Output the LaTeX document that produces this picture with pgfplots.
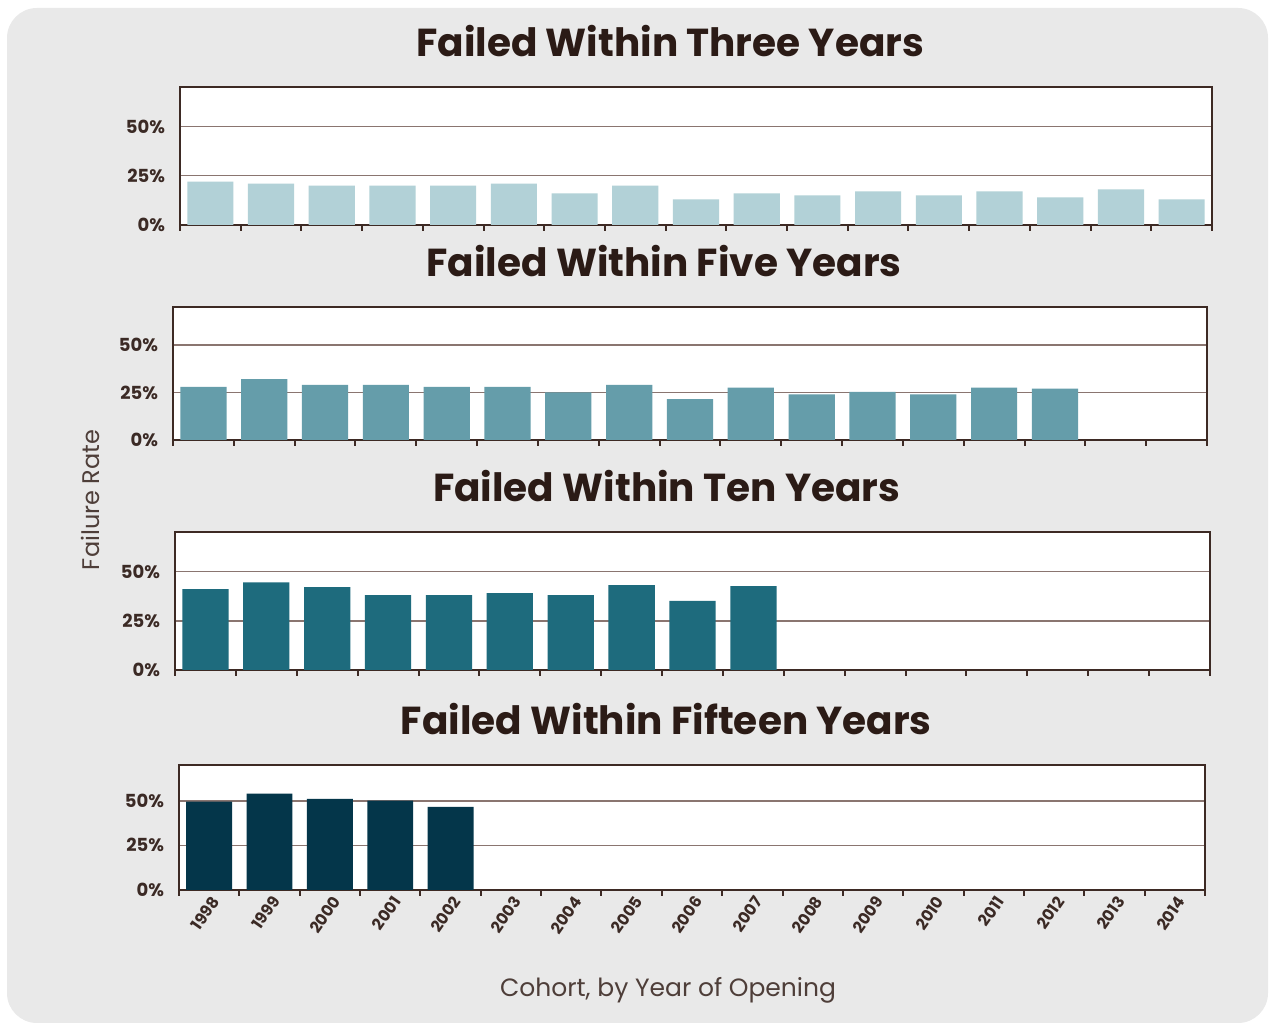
\documentclass[border=0pt]{standalone}
\usepackage{pgfplots}
\pgfplotsset{compat=1.18}
\usepackage{fontspec}
\setmainfont{Poppins}
\definecolor{bgc}{HTML}{E9E9E9}
\definecolor{axc}{HTML}{3D2A24}
\definecolor{gridc}{HTML}{8A7570}
\definecolor{titc}{HTML}{2B1B16}
\definecolor{tickc}{HTML}{3B2A25}
\definecolor{labc}{HTML}{4E3E39}
\definecolor{c1}{HTML}{B2D1D7}
\definecolor{c2}{HTML}{659DAA}
\definecolor{c3}{HTML}{1E6B7D}
\definecolor{c4}{HTML}{04364A}
\pgfplotsset{
  panel/.style={
    scale only axis, width=516pt, height=69pt,
    xmin=-0.5, xmax=16.5, ymin=0, ymax=70,
    ytick={0,25,50}, yticklabels={0\%,25\%,50\%},
    ymajorgrids, grid style={line width=0.8pt, color=gridc},
    axis line style={line width=1pt, color=axc},
    axis background/.style={fill=white},
    xtick={0,...,16}, xticklabels={},
    minor xtick={-0.5,0.5,...,16.5},
    xtick pos=bottom, ytick pos=left,
    tick align=outside,
    major tick length=0pt, minor tick length=3pt,
    minor tick style={line width=1pt, color=axc},
    yticklabel style={font=\bfseries\fontsize{9}{10}\selectfont, text=tickc, xshift=-4pt},
    title style={at={(0.475,1)}, anchor=base, yshift=9pt, font=\bfseries\fontsize{19.5}{21}\selectfont, text=titc},
    clip=false,
  },
  panelbar/.style={ybar, bar width=0.76, bar shift=0pt, draw=none, fill=#1},
}
\begin{document}
\begin{tikzpicture}
\path[fill=white] (0pt,0pt) rectangle (635pt,513pt);
\fill[bgc, rounded corners=15pt] (3.5pt,1.5pt) rectangle (634pt,509pt);

\begin{axis}[panel, at={(90pt,400.5pt)}, anchor=south west, width=516pt, height=69pt,
  title={Failed Within Three Years}]
\addplot[panelbar=c1] coordinates {(0,22) (1,21) (2,20) (3,20) (4,20) (5,21) (6,16) (7,20) (8,13) (9,16) (10,15) (11,17) (12,15) (13,17) (14,14) (15,18) (16,13)};
\end{axis}

\begin{axis}[panel, at={(86.5pt,293pt)}, anchor=south west, width=517pt, height=66.5pt,
  title={Failed Within Five Years}]
\addplot[panelbar=c2] coordinates {(0,28) (1,32) (2,29) (3,29) (4,28) (5,28) (6,25) (7,29) (8,21.5) (9,27.6) (10,24) (11,25.3) (12,24) (13,27.6) (14,27)};
\end{axis}

\begin{axis}[panel, at={(87.5pt,178pt)}, anchor=south west, width=517.5pt, height=69pt,
  title={Failed Within Ten Years}]
\addplot[panelbar=c3] coordinates {(0,41) (1,44.5) (2,42) (3,38) (4,38) (5,39) (6,38) (7,43) (8,35) (9,42.5)};
\end{axis}

\begin{axis}[panel, at={(89.5pt,68pt)}, anchor=south west, width=513pt, height=62.5pt,
  title={Failed Within Fifteen Years},
  xticklabels={1998,1999,2000,2001,2002,2003,2004,2005,2006,2007,2008,2009,2010,2011,2012,2013,2014},
  xticklabel style={rotate=55, anchor=east, font=\bfseries\fontsize{8}{9}\selectfont, text=tickc, yshift=-5pt, xshift=2pt}]
\addplot[panelbar=c4] coordinates {(0,49.5) (1,54) (2,51) (3,50) (4,46.5)};
\end{axis}

\node[rotate=90, font=\fontsize{12}{14}\selectfont, text=labc] at (45pt,263pt) {Failure Rate};
\node[font=\fontsize{12.5}{14}\selectfont, text=labc] at (334pt,18pt) {Cohort, by Year of Opening};
\end{tikzpicture}
\end{document}
